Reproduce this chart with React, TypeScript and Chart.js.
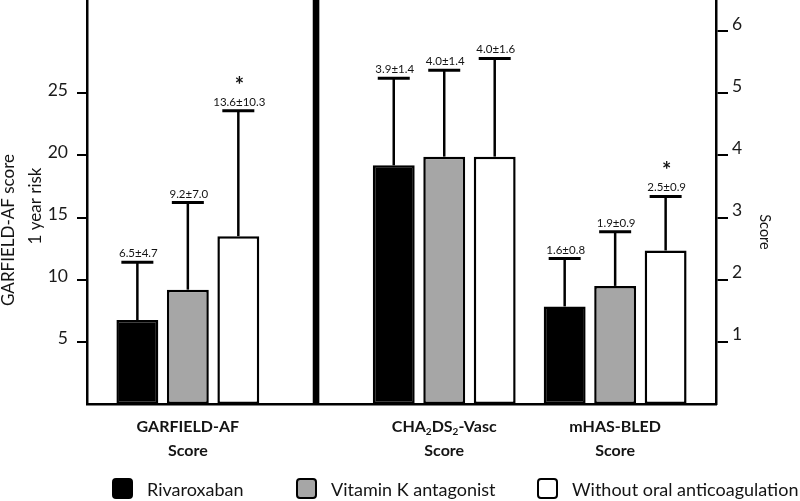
import React, { useEffect, useRef } from 'react';
import { Chart, registerables } from 'chart.js';

Chart.register(...registerables);

// ---------- data ----------
const groupLabels = ['GARFIELD-AF', 'CHA₂DS₂-Vasc', 'mHAS-BLED'];
const groupSubLabel = 'Score';
const seriesNames = ['Rivaroxaban', 'Vitamin K antagonist', 'Without oral anticoagulation'];

// GARFIELD-AF 1 year risk (left axis)
const garfieldMean = [6.75, 9.2, 13.5];
const garfieldSd = [4.65, 7.0, 10.1];
const garfieldText = ['6.5±4.7', '9.2±7.0', '13.6±10.3'];
const garfieldStar = [false, false, true];

// CHA2DS2-VASc score (right axis)
const chaMean = [3.84, 3.98, 3.98];
const chaSd = [1.4, 1.39, 1.58];
const chaText = ['3.9±1.4', '4.0±1.4', '4.0±1.6'];
const chaStar = [false, false, false];

// mHAS-BLED score (right axis)
const hasMean = [1.57, 1.9, 2.47];
const hasSd = [0.77, 0.87, 0.87];
const hasText = ['1.6±0.8', '1.9±0.9', '2.5±0.9'];
const hasStar = [false, false, true];

const leftTicks = [5, 10, 15, 20, 25];
const rightTicks = [1, 2, 3, 4, 5, 6];
const leftTitle = ['GARFIELD-AF score', '1 year risk'];
const rightTitle = 'Score';

// ---------- layout / style ----------
const groupPos = [0, 1.5, 2.5];
const X_MIN = -0.59;
const X_MAX = 3.09;
const LEFT_MAX = 32.5;
const RIGHT_MAX = 6.5;
const seriesFill = ['#000000', '#a6a6a6', '#ffffff'];
const FONT = 'Lato, "Open Sans", "DejaVu Sans", sans-serif';
const TEXT = '#141414';
const legendBoxX = [112, 296, 537];

function drawRich(ctx: CanvasRenderingContext2D, text: string, cx: number, cy: number, size: number) {
  const parts: { t: string; sub: boolean }[] = [];
  for (const ch of text) {
    const sub = ch === '₂';
    const t = sub ? '2' : ch;
    const last = parts[parts.length - 1];
    if (last && last.sub === sub) last.t += t;
    else parts.push({ t, sub });
  }
  const fontMain = `bold ${size}px ${FONT}`;
  const fontSub = `bold ${Math.round(size * 0.62)}px ${FONT}`;
  let total = 0;
  for (const p of parts) {
    ctx.font = p.sub ? fontSub : fontMain;
    total += ctx.measureText(p.t).width;
  }
  let x = cx - total / 2;
  ctx.textAlign = 'left';
  ctx.textBaseline = 'middle';
  for (const p of parts) {
    ctx.font = p.sub ? fontSub : fontMain;
    ctx.fillText(p.t, x, p.sub ? cy + size * 0.32 : cy);
    x += ctx.measureText(p.t).width;
  }
}

const overlay = {
  id: 'overlay',
  afterDatasetsDraw(chart: any) {
    const ctx: CanvasRenderingContext2D = chart.ctx;
    const xs = chart.scales.x;
    const area = chart.chartArea;
    ctx.save();
    // thick separator between the two panels
    const sepX = xs.getPixelForValue((groupPos[0] + groupPos[1]) / 2);
    ctx.fillStyle = '#000';
    ctx.fillRect(sepX - 3.3, area.top, 6.6, area.bottom - area.top);

    chart.data.datasets.forEach((ds: any, di: number) => {
      const meta = chart.getDatasetMeta(di);
      const ys = chart.scales[ds.yAxisID];
      meta.data.forEach((el: any, i: number) => {
        const pt = ds.data[i];
        if (pt.y == null) return;
        const x = el.x;
        const yBar = ys.getPixelForValue(pt.y);
        const yErr = ys.getPixelForValue(pt.y + ds.sd[i]);
        ctx.strokeStyle = '#000';
        ctx.lineWidth = 2.5;
        ctx.beginPath();
        ctx.moveTo(x, yBar);
        ctx.lineTo(x, yErr);
        ctx.stroke();
        ctx.lineWidth = 3;
        ctx.beginPath();
        ctx.moveTo(x - 16, yErr);
        ctx.lineTo(x + 16, yErr);
        ctx.stroke();
        ctx.fillStyle = TEXT;
        ctx.font = `11.5px ${FONT}`;
        ctx.textAlign = 'center';
        ctx.textBaseline = 'alphabetic';
        ctx.fillText(ds.valueText[i], x + 1, yErr - 5);
        if (ds.star[i]) {
          ctx.font = `bold 22px ${FONT}`;
          ctx.textBaseline = 'middle';
          ctx.fillText('*', x + 1, yErr - 25);
        }
      });
    });
    ctx.restore();
  },
  afterDraw(chart: any) {
    const ctx: CanvasRenderingContext2D = chart.ctx;
    const xs = chart.scales.x;
    ctx.save();
    ctx.fillStyle = TEXT;
    // category labels
    groupLabels.forEach((g, i) => {
      const cx = xs.getPixelForValue(groupPos[i]);
      drawRich(ctx, g, cx, 427, 16);
      drawRich(ctx, groupSubLabel, cx, 451, 16);
    });
    // left axis title
    ctx.font = `17px ${FONT}`;
    ctx.textAlign = 'center';
    ctx.textBaseline = 'middle';
    ctx.save();
    ctx.translate(9, 230);
    ctx.rotate(-Math.PI / 2);
    ctx.fillText(leftTitle[0], 0, 0);
    ctx.restore();
    ctx.save();
    ctx.translate(36, 206);
    ctx.rotate(-Math.PI / 2);
    ctx.fillText(leftTitle[1], 0, 0);
    ctx.restore();
    // right axis title
    ctx.save();
    ctx.font = `14.5px ${FONT}`;
    ctx.translate(765, 232);
    ctx.rotate(Math.PI / 2);
    ctx.fillText(rightTitle, 0, 0);
    ctx.restore();
    // legend
    seriesNames.forEach((name, i) => {
      const bx = legendBoxX[i];
      const by = 478;
      ctx.beginPath();
      ctx.roundRect(bx + 1, by + 1, 19, 19, 3);
      ctx.fillStyle = seriesFill[i];
      ctx.fill();
      ctx.lineWidth = 2;
      ctx.strokeStyle = '#000';
      ctx.stroke();
      ctx.fillStyle = TEXT;
      ctx.font = `18px ${FONT}`;
      ctx.textAlign = 'left';
      ctx.textBaseline = 'middle';
      ctx.fillText(name, bx + 35, 490);
    });
    ctx.restore();
  },
};

function buildDatasets() {
  const sets: any[] = [];
  for (let s = 0; s < seriesNames.length; s++) {
    sets.push({
      label: seriesNames[s],
      yAxisID: 'y',
      data: [
        { x: groupPos[0], y: garfieldMean[s] },
        { x: groupPos[1], y: null },
        { x: groupPos[2], y: null },
      ],
      sd: [garfieldSd[s], 0, 0],
      valueText: [garfieldText[s], '', ''],
      star: [garfieldStar[s], false, false],
      backgroundColor: seriesFill[s],
    });
  }
  for (let s = 0; s < seriesNames.length; s++) {
    sets.push({
      label: seriesNames[s],
      yAxisID: 'y2',
      data: [
        { x: groupPos[0], y: null },
        { x: groupPos[1], y: chaMean[s] },
        { x: groupPos[2], y: hasMean[s] },
      ],
      sd: [0, chaSd[s], hasSd[s]],
      valueText: ['', chaText[s], hasText[s]],
      star: [false, chaStar[s], hasStar[s]],
      backgroundColor: seriesFill[s],
    });
  }
  return sets;
}

export default function App() {
  const ref = useRef<HTMLCanvasElement | null>(null);
  useEffect(() => {
    document.body.style.margin = '0';
    document.body.style.overflow = 'hidden';
    const canvas = ref.current!;
    const chart = new Chart(canvas, {
      type: 'bar',
      data: { datasets: buildDatasets() },
      options: {
        animation: false,
        responsive: false,
        layout: { padding: 0 },
        datasets: {
          bar: {
            categoryPercentage: 0.886,
            barPercentage: 0.83,
            borderWidth: 2.5,
            borderColor: '#000',
            borderSkipped: false,
            skipNull: true,
          } as any,
        },
        plugins: { legend: { display: false }, tooltip: { enabled: false } },
        scales: {
          x: {
            type: 'linear',
            min: X_MIN,
            max: X_MAX,
            offset: false,
            grid: { display: false },
            border: { display: true, color: '#000', width: 2.5 },
            ticks: { display: false },
            afterBuildTicks: (s: any) => {
              s.ticks = groupPos.map((v) => ({ value: v }));
            },
            afterFit: (s: any) => {
              s.height = 97;
              s.paddingLeft = 0;
              s.paddingRight = 0;
            },
          },
          y: {
            type: 'linear',
            position: 'left',
            min: 0,
            max: LEFT_MAX,
            afterBuildTicks: (s: any) => {
              s.ticks = leftTicks.map((v) => ({ value: v }));
            },
            grid: { display: true, drawOnChartArea: false, drawTicks: true, tickLength: 10, color: '#000', lineWidth: 2 },
            border: { display: true, color: '#000', width: 2.5 },
            ticks: { color: '#1a1a1a', padding: 9, labelOffset: -3, font: { family: FONT, size: 17.5 } },
            afterFit: (s: any) => {
              s.width = 87;
              s.paddingTop = 0;
              s.paddingBottom = 0;
            },
          },
          y2: {
            type: 'linear',
            position: 'right',
            min: 0,
            max: RIGHT_MAX,
            afterBuildTicks: (s: any) => {
              s.ticks = rightTicks.map((v) => ({ value: v }));
            },
            grid: { display: true, drawOnChartArea: false, drawTicks: true, tickLength: 12, color: '#000', lineWidth: 2 },
            border: { display: true, color: '#000', width: 2.5 },
            ticks: { color: '#1a1a1a', padding: 4, labelOffset: -7, font: { family: FONT, size: 17.5 } },
            afterFit: (s: any) => {
              s.width = 84;
              s.paddingTop = 0;
              s.paddingBottom = 0;
            },
          },
        },
      } as any,
      plugins: [overlay],
    });
    (document as any).fonts?.load?.(`17px Lato`).then(() => chart.update()).catch(() => {});
    return () => chart.destroy();
  }, []);
  return <canvas ref={ref} width={800} height={501} style={{ display: 'block', width: 800, height: 501 }} />;
}
